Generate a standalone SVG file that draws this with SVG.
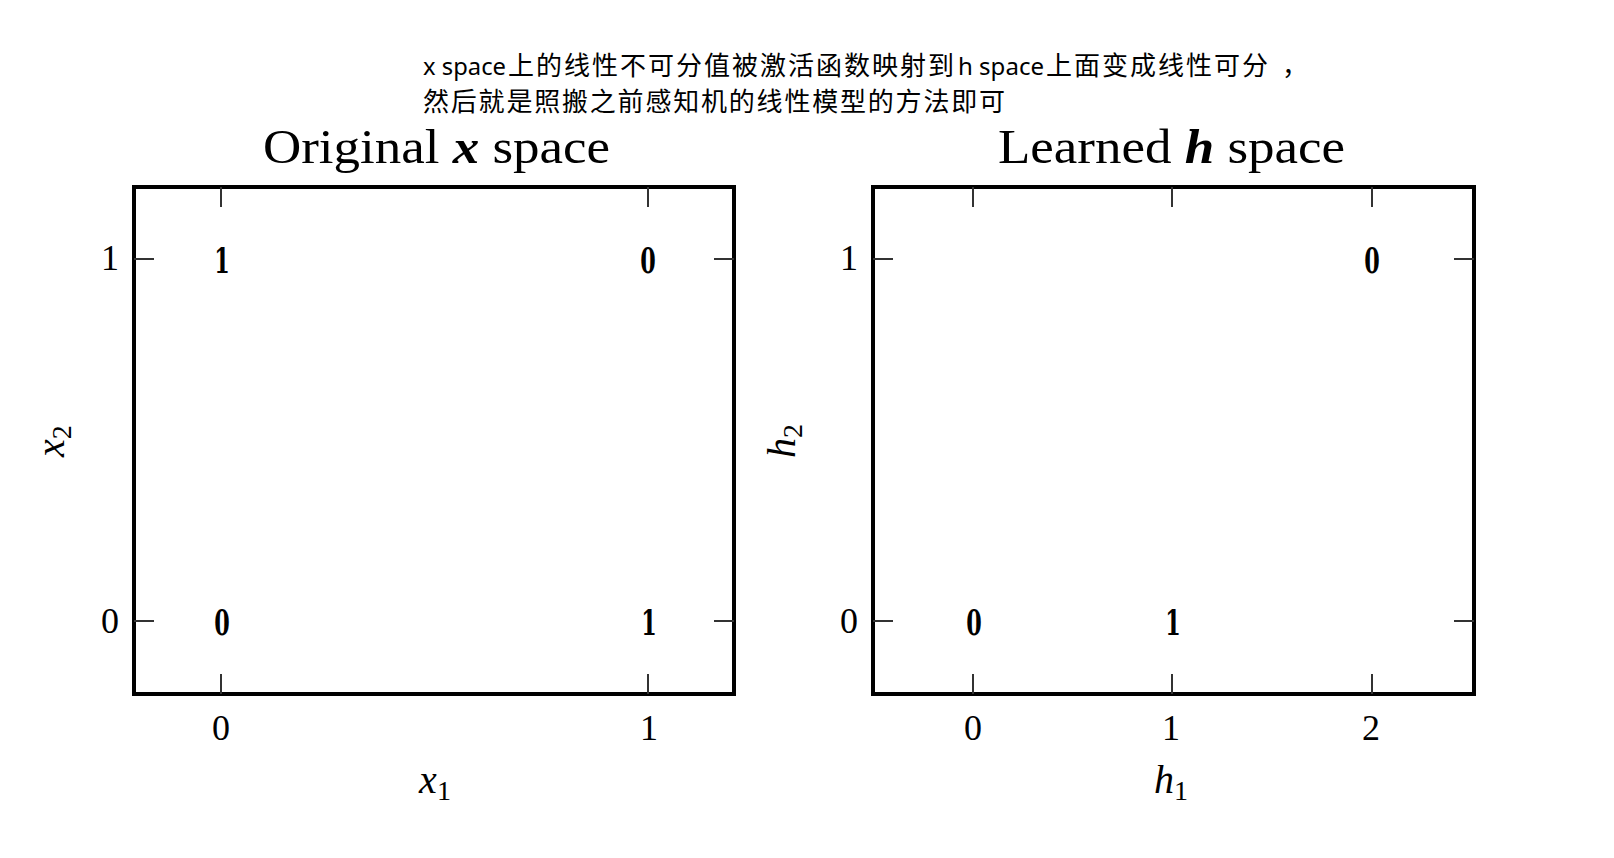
<svg xmlns="http://www.w3.org/2000/svg" width="1614" height="858" viewBox="0 0 1614 858">
<style>
.cjk{font-family:"Noto Sans CJK SC","Noto Sans",sans-serif;font-size:26px;fill:#000}
.lat{font-family:"Noto Sans","Liberation Sans",sans-serif;font-size:24px;fill:#000}
.title{font-family:"Liberation Serif",serif;font-size:48px;fill:#000}
.tick{font-family:"Liberation Serif",serif;font-size:36px;fill:#000;text-anchor:middle}
.ax{font-family:"Liberation Serif",serif;font-size:40px;font-style:italic;fill:#000}
.sub{font-size:28px;font-style:normal}
.box{fill:none;stroke:#000;stroke-width:4}
.tk{stroke:#333;stroke-width:2}
.pt{font-family:"DejaVu Serif",serif;font-weight:bold;font-size:36px;fill:#000;text-anchor:middle}
</style>
<rect width="1614" height="858" fill="#fff"/>
<g id="caption">
<text class="lat" x="423" y="75" textLength="83" lengthAdjust="spacingAndGlyphs">x space</text>
<text class="cjk" x="508" y="75" letter-spacing="2">上的线性不可分值被激活函数映射到</text>
<text class="lat" x="958" y="75" textLength="86" lengthAdjust="spacingAndGlyphs">h space</text>
<text class="cjk" x="1046" y="75" letter-spacing="2">上面变成线性可分</text>
<text class="cjk" x="1282" y="75">，</text>
<text class="cjk" x="423" y="111" letter-spacing="1.8">然后就是照搬之前感知机的线性模型的方法即可</text>
</g>
<g id="plot-x">
<text class="title" x="263" y="163" textLength="347" lengthAdjust="spacingAndGlyphs">Original <tspan font-weight="bold" font-style="italic">x</tspan> space</text>
<rect class="box" x="134" y="187" width="600" height="507"/>
<g class="tk">
<line x1="221" y1="187" x2="221" y2="207"/><line x1="648" y1="187" x2="648" y2="207"/>
<line x1="221" y1="694" x2="221" y2="674"/><line x1="648" y1="694" x2="648" y2="674"/>
<line x1="134" y1="259" x2="154" y2="259"/><line x1="134" y1="621" x2="154" y2="621"/>
<line x1="734" y1="259" x2="714" y2="259"/><line x1="734" y1="621" x2="714" y2="621"/>
</g>
<text class="tick" x="110" y="270">1</text>
<text class="tick" x="110" y="633">0</text>
<text class="tick" x="221" y="740">0</text>
<text class="tick" x="649" y="740">1</text>
<text class="ax" x="435" y="793" text-anchor="middle">x<tspan class="sub" dy="7">1</tspan></text>
<text class="ax" transform="translate(64,441) rotate(-90)" text-anchor="middle">x<tspan class="sub" dy="7">2</tspan></text>
<text class="pt" transform="translate(222,273) scale(0.62,1)">1</text>
<text class="pt" transform="translate(648,273) scale(0.62,1)">0</text>
<text class="pt" transform="translate(222,635) scale(0.62,1)">0</text>
<text class="pt" transform="translate(649,635) scale(0.62,1)">1</text>
</g>
<g id="plot-h">
<text class="title" x="998" y="163" textLength="347" lengthAdjust="spacingAndGlyphs">Learned <tspan font-weight="bold" font-style="italic">h</tspan> space</text>
<rect class="box" x="873" y="187" width="601" height="507"/>
<g class="tk">
<line x1="973" y1="187" x2="973" y2="207"/><line x1="1172" y1="187" x2="1172" y2="207"/><line x1="1372" y1="187" x2="1372" y2="207"/>
<line x1="973" y1="694" x2="973" y2="674"/><line x1="1172" y1="694" x2="1172" y2="674"/><line x1="1372" y1="694" x2="1372" y2="674"/>
<line x1="873" y1="259" x2="893" y2="259"/><line x1="873" y1="621" x2="893" y2="621"/>
<line x1="1474" y1="259" x2="1454" y2="259"/><line x1="1474" y1="621" x2="1454" y2="621"/>
</g>
<text class="tick" x="849" y="270">1</text>
<text class="tick" x="849" y="633">0</text>
<text class="tick" x="973" y="740">0</text>
<text class="tick" x="1171" y="740">1</text>
<text class="tick" x="1371" y="740">2</text>
<text class="ax" x="1171" y="793" text-anchor="middle">h<tspan class="sub" dy="7">1</tspan></text>
<text class="ax" transform="translate(795,441) rotate(-90)" text-anchor="middle">h<tspan class="sub" dy="7">2</tspan></text>
<text class="pt" transform="translate(1372,273) scale(0.62,1)">0</text>
<text class="pt" transform="translate(974,635) scale(0.62,1)">0</text>
<text class="pt" transform="translate(1173,635) scale(0.62,1)">1</text>
</g>
</svg>
